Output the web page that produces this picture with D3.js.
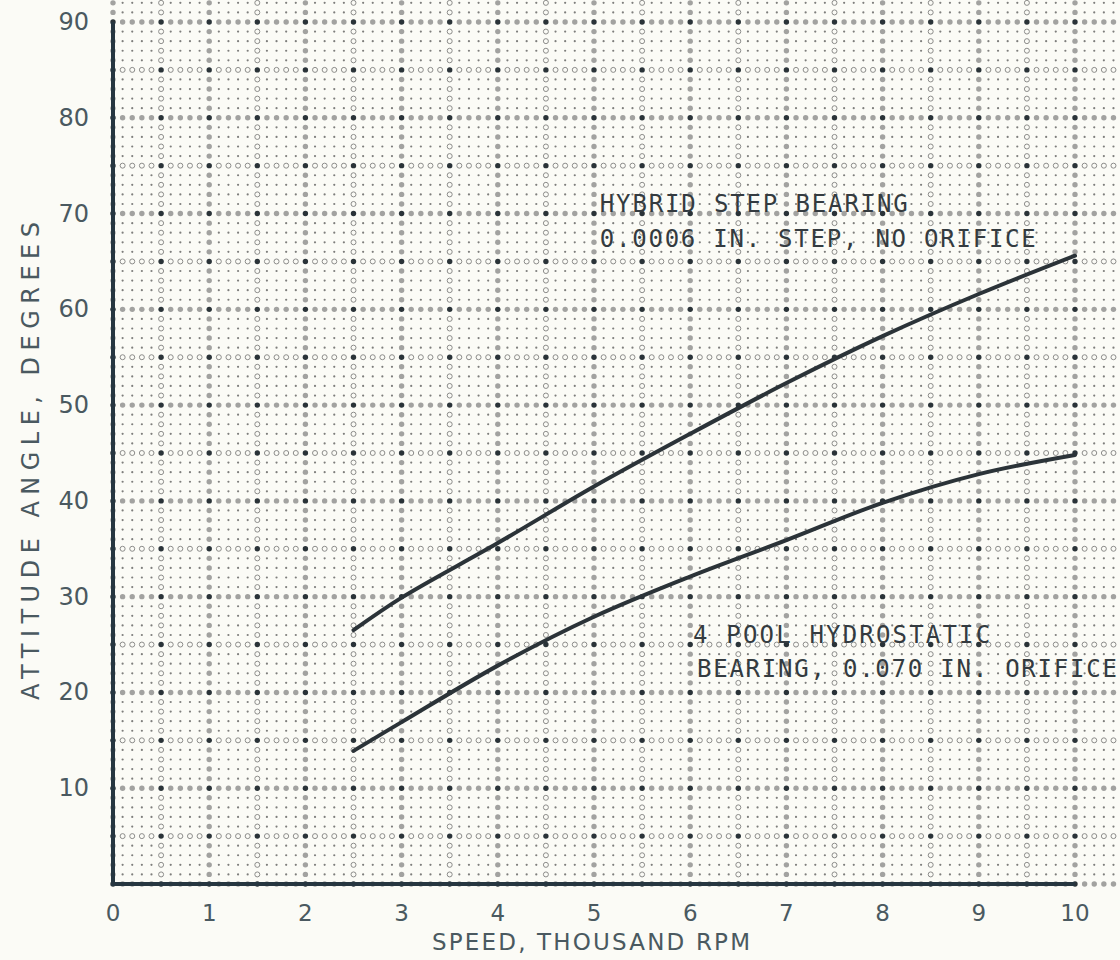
<!DOCTYPE html>
<html>
<head>
<meta charset="utf-8">
<script src="https://cdn.jsdelivr.net/npm/d3@7"></script>
<style>
    html, body { margin: 0; padding: 0; background: #fbfbf6; }
    svg { display: block; }
</style>
</head>
<body>
<div id="chart"></div>
<script>
// speed, thousand rpm
const speeds = [2.5, 3, 4, 5, 6, 7, 8, 9, 10];
// attitude angle, degrees
const hybridStep = [26.5, 29.9, 35.6, 41.5, 47.0, 52.3, 57.2, 61.6, 65.6];
const fourPool = [13.9, 16.9, 22.8, 27.9, 32.1, 35.9, 39.8, 42.8, 44.8];

const xTicks = [0, 1, 2, 3, 4, 5, 6, 7, 8, 9, 10];
const yTicks = [10, 20, 30, 40, 50, 60, 70, 80, 90];

const labels = [
    { text: 'HYBRID STEP BEARING', x: 5.06, y: 70.15, len: 308 },
    { text: '0.0006 IN. STEP, NO ORIFICE', x: 5.06, y: 66.5, len: 436 },
    { text: '4 POOL HYDROSTATIC', x: 6.03, y: 25.2, len: 297 },
    { text: 'BEARING, 0.070 IN. ORIFICE', x: 6.07, y: 21.6, len: 420 }
];

const width = 1120;
const height = 960;

const x = d3.scaleLinear().domain([0, 10]).range([113, 1075]);
const y = d3.scaleLinear().domain([0, 90]).range([884, 22]);

const svg = d3.select('#chart')
    .append('svg')
    .attr('width', width)
    .attr('height', height);

svg.append('rect')
    .attr('width', width)
    .attr('height', height)
    .attr('fill', '#fbfbf6');

// graph paper dots: one per 0.1 x step and per degree
const dots = [];
for (let xi = 0; xi <= 104; xi++) {
    for (let yi = 0; yi <= 92; yi++) {
        const xMaj = xi % 10 === 0;
        const xHalf = xi % 5 === 0;
        const yMaj = yi % 10 === 0;
        const yHalf = yi % 5 === 0;
        let kind = 'small';
        if (xHalf && yHalf) kind = 'dark';
        else if (xMaj || yMaj) kind = 'gray';
        else if (xHalf || yHalf) kind = 'open';
        dots.push({ xv: xi / 10, yv: yi, kind });
    }
}

const dotGroup = svg.append('g').attr('class', 'dots');
dotGroup.selectAll('circle')
    .data(dots)
    .enter()
    .append('circle')
    .attr('cx', d => x(d.xv))
    .attr('cy', d => y(d.yv))
    .attr('r', d => {
        if (d.kind === 'small') return 1.1;
        if (d.kind === 'open') return 2.5;
        return 2.7;
    })
    .attr('fill', d => {
        if (d.kind === 'dark') return '#2a3338';
        if (d.kind === 'gray') return '#a2a2a0';
        if (d.kind === 'open') return 'none';
        return '#7e7e7c';
    })
    .attr('stroke', d => d.kind === 'open' ? '#8c8c8a' : 'none')
    .attr('stroke-width', 1);

// axes lines
svg.append('line')
    .attr('x1', x(0)).attr('x2', x(0))
    .attr('y1', y(90)).attr('y2', y(0))
    .attr('stroke', '#263640')
    .attr('stroke-width', 4);

svg.append('line')
    .attr('x1', x(0) - 2).attr('x2', x(10))
    .attr('y1', y(0)).attr('y2', y(0))
    .attr('stroke', '#263640')
    .attr('stroke-width', 4);

// tick labels
const tickFont = '"DejaVu Sans", sans-serif';
svg.append('g').selectAll('text')
    .data(xTicks)
    .enter()
    .append('text')
    .attr('x', d => x(d))
    .attr('y', 921)
    .attr('text-anchor', 'middle')
    .attr('font-family', tickFont)
    .attr('font-size', 23)
    .attr('fill', '#4a5960')
    .text(d => d);

svg.append('g').selectAll('text')
    .data(yTicks)
    .enter()
    .append('text')
    .attr('x', 89)
    .attr('y', d => y(d) + 8)
    .attr('text-anchor', 'end')
    .attr('font-family', tickFont)
    .attr('font-size', 24)
    .attr('fill', '#4a5960')
    .text(d => d);

// axis titles
svg.append('text')
    .attr('x', 432)
    .attr('y', 950)
    .attr('font-family', tickFont)
    .attr('font-size', 23)
    .attr('fill', '#4a5960')
    .attr('textLength', 318)
    .attr('lengthAdjust', 'spacing')
    .text('SPEED, THOUSAND RPM');

svg.append('text')
    .attr('transform', 'translate(39,700) rotate(-90)')
    .attr('font-family', tickFont)
    .attr('font-size', 24)
    .attr('fill', '#4a5960')
    .attr('textLength', 478)
    .attr('lengthAdjust', 'spacing')
    .text('ATTITUDE ANGLE, DEGREES');

// curves
const line = d3.line()
    .x(d => x(d[0]))
    .y(d => y(d[1]))
    .curve(d3.curveCatmullRom);

[hybridStep, fourPool].forEach(series => {
    svg.append('path')
        .datum(speeds.map((s, i) => [s, series[i]]))
        .attr('d', line)
        .attr('fill', 'none')
        .attr('stroke', '#2b3338')
        .attr('stroke-width', 4)
        .attr('stroke-linecap', 'round');
});

// curve annotations
svg.append('g').selectAll('text')
    .data(labels)
    .enter()
    .append('text')
    .attr('x', d => x(d.x))
    .attr('y', d => y(d.y))
    .attr('font-family', '"DejaVu Sans Mono", monospace')
    .attr('font-size', 24)
    .attr('fill', '#343b40')
    .attr('textLength', d => d.len)
    .attr('lengthAdjust', 'spacing')
    .text(d => d.text);
</script>
</body>
</html>
